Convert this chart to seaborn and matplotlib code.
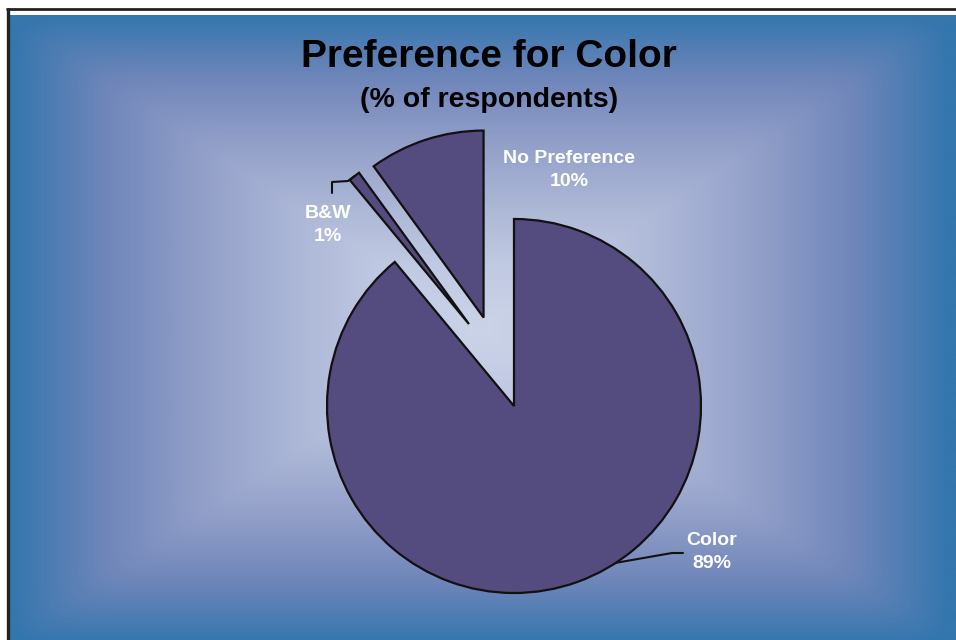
import numpy as np
import matplotlib.pyplot as plt
import seaborn as sns

sns.set_style("white")
plt.rcParams['font.family'] = ['Liberation Sans', 'DejaVu Sans']

# Data
categories = ["Color", "B&W", "No Preference"]
shares = [89, 1, 10]
pct_labels = ["89%", "1%", "10%"]

title = "Preference for Color"
subtitle = "(% of respondents)"

# Layout (pixels of the 956x640 picture)
W, H = 956, 640
CX, CY, R = 514, 406, 187          # pie centre and radius
label_pos = [(712, 552), (328, 225), (569, 170)]
explode_dist = [0, 0.5, 0.5]
explode_turn = [0, -9, 1]          # degrees added to the explode direction
slice_color = "#544c7e"


def px(x, y):
    # picture pixel -> data units (1 unit = pie radius)
    return (x - CX) / R, (CY - y) / R


fig = plt.figure(figsize=(W / 100, H / 100), dpi=100)
fig.patch.set_facecolor("white")
ax = fig.add_axes([0, 0, 1, 1])

# Background: rectangular gradient, light centre, blue edges
gx = np.arange(10, W) + 0.5
gy = np.arange(16, H) + 0.5
GX, GY = np.meshgrid(gx, gy)
p = 30
t = ((np.abs(GX - 480) / 470) ** p + (np.abs(GY - 330) / 314) ** p) ** (1 / p)
t = np.clip(t, 0, 1)
bg_cmap = sns.blend_palette(["#cbd3e8", "#c1cae3", "#abb6d6", "#919ec8",
                             "#6f86ba", "#3476ae"], as_cmap=True)
left, top = px(10, 16)
right, bottom = px(W, H)
ax.imshow(t, cmap=bg_cmap, vmin=0, vmax=1, extent=[left, right, bottom, top],
          origin="upper", aspect="auto", interpolation="bilinear", zorder=0)

# Frame lines
ax.plot(*zip(px(6, 9), px(W, 9)), color="#222222", lw=2, zorder=1,
        clip_on=False, solid_capstyle="butt")
ax.plot(*zip(px(8, 8), px(8, H)), color="#222222", lw=2.4, zorder=1,
        clip_on=False, solid_capstyle="butt")

# Pie
wedges, _ = ax.pie(shares, startangle=90, counterclock=False,
                   colors=[slice_color] * len(shares), radius=1,
                   wedgeprops=dict(edgecolor="#111111", linewidth=1.6, zorder=2))
for w, d, turn in zip(wedges, explode_dist, explode_turn):
    a = np.deg2rad((w.theta1 + w.theta2) / 2 + turn)
    w.set_center((d * np.cos(a), d * np.sin(a)))

# Leader lines
a = np.deg2rad(-57)
lx = [np.cos(a), px(672, 553)[0], px(683, 553)[0]]
ly = [np.sin(a), px(672, 553)[1], px(683, 553)[1]]
ax.plot(lx, ly, color="#111111", lw=1.5, zorder=3)

bw = wedges[1]
am = np.deg2rad((bw.theta1 + bw.theta2) / 2)
sx = bw.center[0] + bw.r * np.cos(am)
sy = bw.center[1] + bw.r * np.sin(am)
pts = [px(348, 181), px(332, 182), px(332, 193)]
ax.plot([sx] + [q[0] for q in pts], [sy] + [q[1] for q in pts],
        color="#111111", lw=1.5, zorder=3)

# Labels
for cat, pct, (x, y) in zip(categories, pct_labels, label_pos):
    ax.text(*px(x, y), f"{cat}\n{pct}", ha="center", va="center",
            color="white", fontsize=14, fontweight="bold", linespacing=1.5,
            zorder=4)

ax.text(*px(489, 57), title, ha="center", va="center", fontsize=28,
        fontweight="bold", color="black", zorder=4)
ax.text(*px(489, 100), subtitle, ha="center", va="center", fontsize=20.5,
        fontweight="bold", color="black", zorder=4)

ax.set_xlim(px(0, 0)[0], px(W, 0)[0])
ax.set_ylim(px(0, H)[1], px(0, 0)[1])
ax.set_aspect("auto")
ax.axis("off")

fig.savefig("out.png", dpi=100)
